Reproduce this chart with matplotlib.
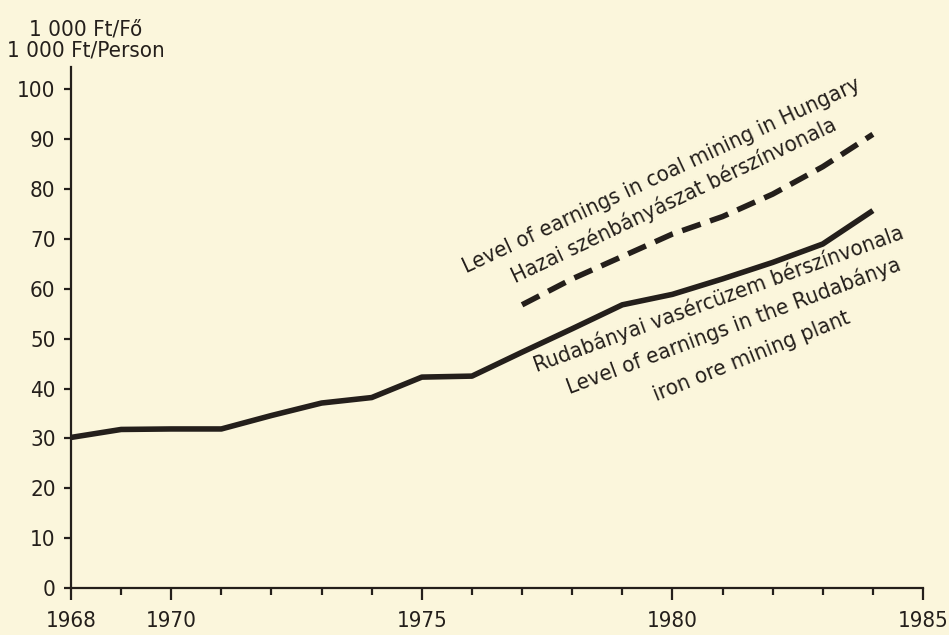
'''
Earnings level: Rudabanya iron ore mining plant vs coal mining in Hungary
'''
#
# imports
#
import matplotlib
matplotlib.use('Agg')
import matplotlib.pyplot as plt
from matplotlib.ticker import MultipleLocator
#
# data (1 000 Ft / person)
#
years_iron = [1968, 1969, 1970, 1971, 1972, 1973, 1974, 1975, 1976,
              1977, 1978, 1979, 1980, 1981, 1982, 1983, 1984]
earn_iron = [30.2, 31.8, 31.9, 31.9, 34.6, 37.1, 38.2, 42.3, 42.5,
             47.3, 52.0, 56.8, 58.9, 62.0, 65.3, 69.0, 75.7]

years_coal = [1977, 1978, 1979, 1980, 1981, 1982, 1983, 1984]
earn_coal = [56.8, 62.0, 66.5, 71.0, 74.5, 79.0, 84.5, 91.0]

xticks = [1968, 1970, 1975, 1980, 1985]
yticks = list(range(0, 101, 10))

unit_label = '1 000 Ft/Fő\n1 000 Ft/Person'
coal_labels = ['Level of earnings in coal mining in Hungary',
               'Hazai szénbányászat bérszínvonala']
iron_labels = ['Rudabányai vasércüzem bérszínvonala',
               'Level of earnings in the Rudabánya',
               'iron ore mining plant']
#
# style
#
paper = '#fbf6dc'
ink = '#241f1b'
plt.rcParams['font.family'] = ['Liberation Sans Narrow', 'DejaVu Sans']
plt.rcParams['font.stretch'] = 'condensed'
plt.rcParams['font.size'] = 16
#
# figure
#
fig = plt.figure(figsize=(9.49, 6.35), dpi=100, facecolor=paper)
ax = fig.add_axes([71/949, 1-588/635, (923-71)/949, (588-67)/635])
ax.set_facecolor(paper)

ax.plot(years_iron, earn_iron, color=ink, lw=4, solid_joinstyle='round',
        solid_capstyle='butt')
ax.plot(years_coal, earn_coal, color=ink, lw=4, dashes=(3.5, 1.8),
        dash_capstyle='butt', dash_joinstyle='miter')

ax.set_xlim(1968, 1985)
ax.set_ylim(0, 104.5)
ax.set_xticks(xticks)
ax.xaxis.set_minor_locator(MultipleLocator(1))
ax.set_yticks(yticks)

for s in ['top', 'right']:
  ax.spines[s].set_visible(False)
for s in ['left', 'bottom']:
  ax.spines[s].set_linewidth(1.6)
  ax.spines[s].set_color(ink)

ax.tick_params(axis='x', which='major', direction='out', length=8.5,
               width=1.6, pad=8, colors=ink, labelsize=16)
ax.tick_params(axis='x', which='minor', direction='out', length=5,
               width=1.6, colors=ink)
ax.tick_params(axis='y', which='major', direction='out', length=5,
               width=1.6, pad=6, colors=ink, labelsize=16)

fig.text(86/949, 1-57/635, unit_label, ha='center', va='baseline',
         color=ink, fontsize=16, linespacing=1.1)
#
# rotated line labels (baseline midpoints in data coords)
#
label_pos = [(1979.83, 81.7, 25.0), (1980.09, 76.5, 25.5)]
for txt, (x, y, r) in zip(coal_labels, label_pos):
  ax.text(x, y, txt, rotation=r, rotation_mode='anchor', ha='center',
          va='baseline', color=ink, fontsize=16)

label_pos = [(1980.97, 56.8, 20.0), (1981.27, 51.4, 20.5),
             (1981.63, 45.4, 22.0)]
for txt, (x, y, r) in zip(iron_labels, label_pos):
  ax.text(x, y, txt, rotation=r, rotation_mode='anchor', ha='center',
          va='baseline', color=ink, fontsize=16)

fig.savefig('out.png', dpi=100, facecolor=paper)
